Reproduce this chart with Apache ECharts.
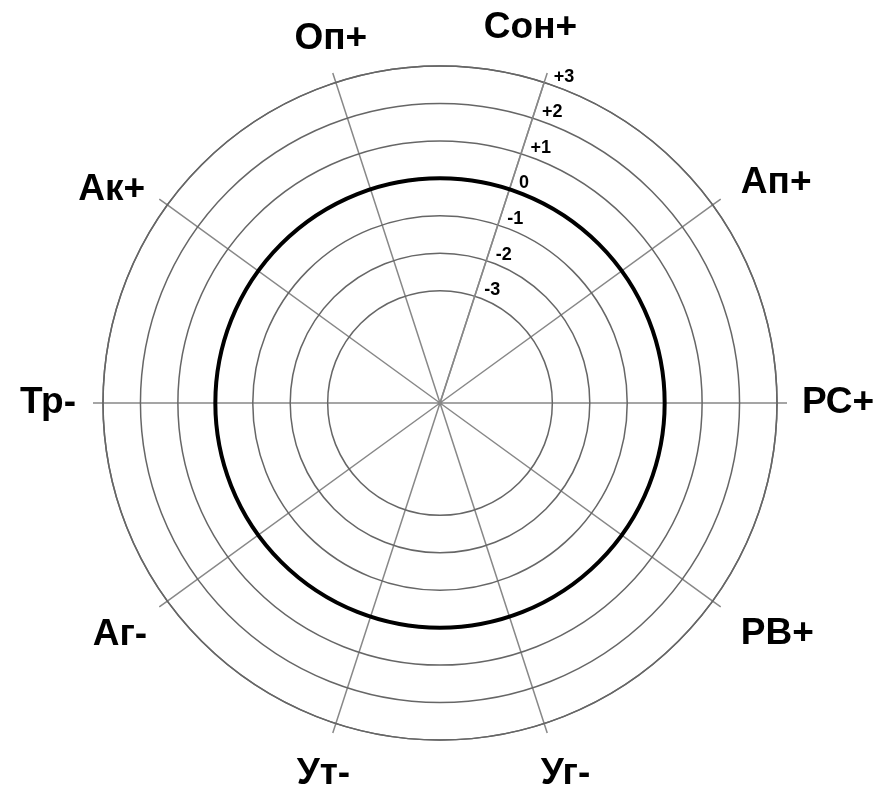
<!DOCTYPE html>
<html>
<head>
<meta charset="utf-8">
<script src="https://cdn.jsdelivr.net/npm/echarts@6/dist/echarts.min.js"></script>
<style>
  html, body { margin: 0; padding: 0; background: #fff; }
  #chart { width: 881px; height: 789px; }
</style>
</head>
<body>
<div id="chart"></div>
<script>
// шкалы, по часовой стрелке начиная с Сон+
const scales = ['Сон+', 'Ап+', 'РС+', 'РВ+', 'Уг-', 'Ут-', 'Аг-', 'Тр-', 'Ак+', 'Оп+']
// радиальная шкала
const rMin = -6
const rMax = 3
const ringMin = -3
const normLevel = 0

// сдвиги подписей шкал (padding: top, right, bottom, left)
const labelPad = {
    'Сон+': [0, 0, 12, -68],
    'Ап+': [0, 0, -11, 8],
    'РС+': [0, 0, 0, 0],
    'РВ+': [0, 0, 0, 8],
    'Уг-': [8, 0, 0, -11],
    'Ут-': [8, -22, 0, 0],
    'Аг-': [1, 0, 0, 0],
    'Тр-': [0, 2, 0, 0],
    'Ак+': [0, 2, -18, 0],
    'Оп+': [0, -39, 1, 0]
}

const cx = 440
const cy = 403
const R = 337
const gray = '#666'
const spokeGray = '#888'

const ticks = []
for (let v = rMin; v <= rMax; v++) ticks.push(v)
const ringColors = ticks.map(v => v >= ringMin ? gray : 'rgba(0,0,0,0)')

const myChart = echarts.init(document.getElementById('chart'))

const option = {
    animation: false,
    backgroundColor: '#fff',
    polar: [
        // кольца шкалы
        { center: [cx, cy], radius: R },
        // лучи и названия шкал
        { center: [cx, cy], radius: R },
        // норма (0) — жирная окружность
        { center: [cx, cy], radius: R * (normLevel - rMin) / (rMax - rMin) }
    ],
    angleAxis: [
        {
            polarIndex: 0,
            type: 'value',
            min: 0,
            max: 360,
            startAngle: 72,
            axisLine: { show: true, lineStyle: { color: gray, width: 1.5 } },
            axisTick: { show: false },
            axisLabel: { show: false },
            splitLine: { show: false }
        },
        {
            polarIndex: 1,
            type: 'category',
            data: scales.map(s => ({ value: s, textStyle: { padding: labelPad[s] } })),
            boundaryGap: false,
            startAngle: 72,
            clockwise: true,
            axisLine: { show: false },
            axisTick: { show: true, interval: 0, length: 10, lineStyle: { color: spokeGray, width: 1.5 } },
            splitLine: { show: true, interval: 0, lineStyle: { color: spokeGray, width: 1.5 } },
            axisLabel: {
                interval: 0,
                margin: 25,
                color: '#000',
                fontFamily: 'Liberation Sans',
                fontWeight: 'bold',
                fontSize: 37
            }
        },
        {
            polarIndex: 2,
            type: 'value',
            min: 0,
            max: 360,
            startAngle: 72,
            axisLine: { show: true, lineStyle: { color: '#000', width: 4 } },
            axisTick: { show: false },
            axisLabel: { show: false },
            splitLine: { show: false },
            z: 10
        }
    ],
    radiusAxis: [
        {
            polarIndex: 0,
            type: 'value',
            min: rMin,
            max: rMax,
            interval: 1,
            axisLine: { show: true, lineStyle: { color: spokeGray, width: 1.5 } },
            axisTick: { show: false },
            splitLine: { show: true, lineStyle: { color: ringColors, width: 1.5 } },
            axisLabel: {
                margin: -10,
                align: 'left',
                verticalAlign: 'bottom',
                color: '#000',
                fontFamily: 'Liberation Sans',
                fontWeight: 'bold',
                fontSize: 18,
                formatter: v => v < ringMin ? '' : (v > 0 ? '+' + v : String(v))
            },
            z: 5
        },
        { polarIndex: 1, type: 'value', min: rMin, max: rMax, show: false },
        { polarIndex: 2, type: 'value', min: 0, max: 1, show: false }
    ],
    series: []
}

myChart.setOption(option)
</script>
</body>
</html>
